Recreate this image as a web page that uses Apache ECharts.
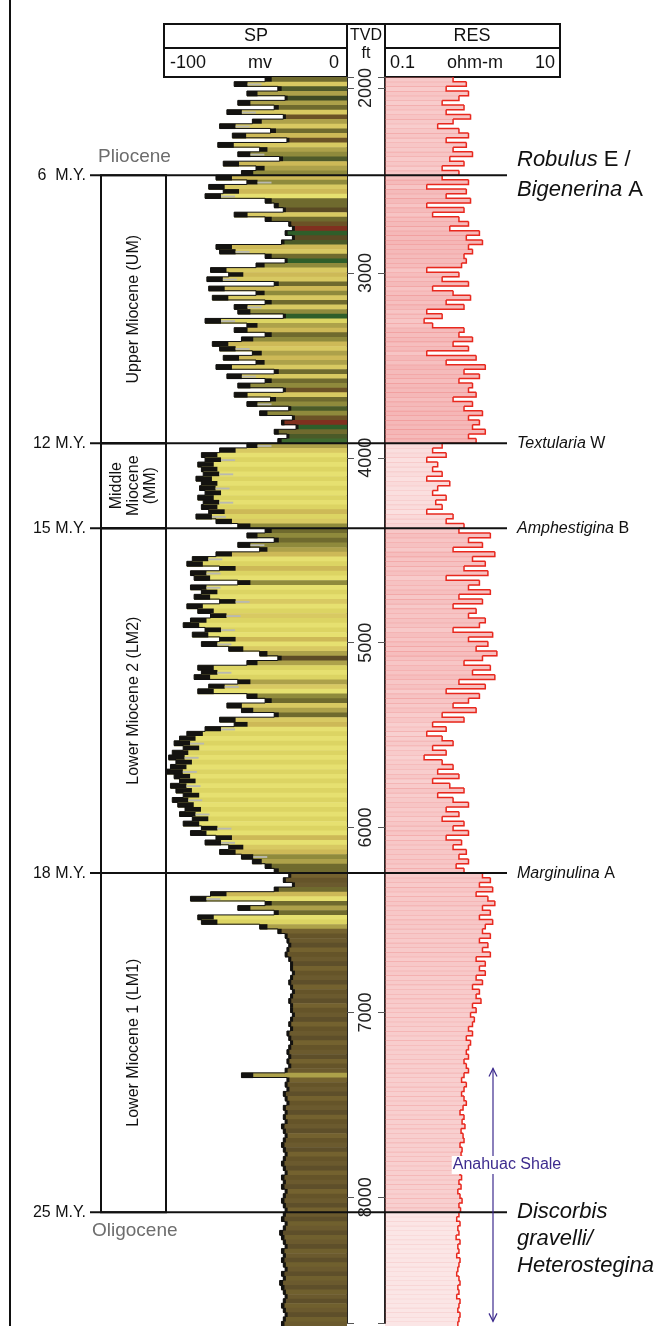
<!DOCTYPE html>
<html><head><meta charset="utf-8">
<script src="https://cdn.jsdelivr.net/npm/echarts@6/dist/echarts.min.js"></script>
<style>html,body{margin:0;padding:0;background:#fff}#c{width:669px;height:1326px}</style>
</head><body><div id="c"></div>
<script>
// ---------------- DATA ----------------
const depthTop = 1940, depthBottom = 8680;            // TVD ft shown
const ageDepths = [2470, 3916, 4375, 6236, 8066];     // TVD ft of age boundaries
const ageLabels = ['6  M.Y.', '12 M.Y.', '15 M.Y.', '18 M.Y.', '25 M.Y.'];
const markerLabels = [
  '{i|Robulus} E /\n{i|Bigenerina} A',
  '{i|Textularia} W',
  '{i|Amphestigina} B',
  '{i|Marginulina} A',
  '{i|Discorbis}\n{i|gravelli/}\n{i|Heterostegina}'
];
const epochNames = ['Upper Miocene (UM)', 'Middle\nMiocene\n(MM)', 'Lower Miocene 2 (LM2)', 'Lower Miocene 1 (LM1)'];
const epochAbove = 'Pliocene';
const epochBelow = 'Oligocene';
const anahuacLabel = 'Anahuac Shale';
const anahuacRange = [7290, 8655];
const anahuacLabelDepth = 7811;

// SP (mV), samples per zone (zone bounds: top, age boundaries, bottom)
const spPliocene = [-45,-62,-38,-55,-34,-60,-40,-66,-35,-52,-70,-42,-63,-33,-71,-48,-60,-37,-68,-50,-58];
const spUpperMiocene = [-72,-55,-76,-68,-78,-45, -40,-35,-62,-45,-32,-30,-34,-30, -36,-72,-70,-45,-34,-50,
  -75,-65,-77,-40,-76,-50,-74,-45,-62, -60,-35,-78,-55,-62,-45,-58,-74,-70,
  -52,-68,-50,-72,-40,-66,-45,-60,-35,-62,-42, -55,-32,-48,-30,-36,-28,-40,-33,-38];
const spMiddleMiocene = [-55,-70,-80,-78,-82,-80,-79,-83,-80,-81,-78,-82,-79,-80,-76,-83,-72,-60];
const spLowerMiocene2 = [-45,-55,-40,-60,-48,-72,-85,-88,-70,-86, -84,-60,-86,-80,-84,-70,-88,-82,-75,-86,
  -90,-78,-85,-70,-80,-65,-48,-38,-55,-82, -80,-84,-60,-76,-82,-55,-45,-66,-58,-40, -70,-62,
  -78,-88,-92,-95,-90,-96,-98,-94, -97,-99,-95,-92,-97,-94,-90,-96,-93,-89,
  -92,-85,-90,-80,-86,-72,-78,-65,-70,-58, -52,-45,-40];
const spLowerMiocene1 = [-32,-35,-30,-40,-75,-86,-45,-60,-40,-82, -80,-48,-38,-34,-33,-32,-33,-34,-32,-31,
  -31,-30,-31,-32,-31,-30,-31,-32,-31,-31, -30,-31,-32,-31,-33,-32,-31,-32,-33,-32,
  -33,-32,-34,-58,-33,-34,-33,-35,-34,-33, -35,-34,-35,-34,-36,-35,-34,-35,-36,-35,
  -34,-35,-36,-35,-34,-36,-35,-36,-34,-35,-36,-35,-34];
const spOligocene = [-35,-36,-34,-35,-37,-36,-35,-34,-36,-35, -36,-35,-34,-36,-35,-37,-36,-35,-34,-35, -36,-35,-34,-35,-36];

// RES (ohm-m)
const resPliocene = [0.6,0.85,0.5,0.9,0.7,0.45,0.8,0.5,0.95,0.6,0.4,0.7,0.9,0.5,0.85,0.6,1.0,0.55,0.8,0.45,0.7];
const resUpperMiocene = [0.45,0.9,0.3,0.85,0.5,0.95, 0.3,0.8,0.35,0.7,0.9,0.55,1.2,0.85, 1.3,0.9,1.0,0.8,0.85,0.75,
  0.3,0.7,0.45,0.9,0.35,0.6,0.95,0.5,0.8, 0.3,0.45,0.28,0.35,0.8,0.7,1.0,0.6,0.9,
  0.3,1.1,0.5,1.4,0.8,1.2,0.7,1.0,0.9,1.1,0.6, 1.0,0.8,1.3,0.9,1.2,1.0,1.4,0.9,1.1];
const resMiddleMiocene = [0.45,0.35,0.5,0.3,0.4,0.35,0.45,0.3,0.55,0.4,0.35,0.5,0.38,0.45,0.3,0.6,0.5,0.8];
const resLowerMiocene2 = [0.7,1.6,0.9,1.3,0.6,1.8,1.0,1.4,0.8,1.5, 0.5,1.2,0.9,1.6,0.7,1.3,0.6,1.1,0.9,1.4,
  1.2,0.6,1.7,0.9,1.5,1.1,1.9,1.3,0.8,1.6, 1.0,1.8,0.7,1.4,0.5,1.2,0.9,0.6,1.1,0.45, 0.8,0.35,
  0.5,0.3,0.45,0.6,0.35,0.5,0.28,0.45, 0.6,0.4,0.7,0.35,0.55,0.8,0.4,0.6,0.9,0.5,
  0.7,0.45,0.8,0.6,0.9,0.5,0.75,0.6,0.85,0.7, 0.9,0.65,0.8];
const resLowerMiocene1 = [1.3,1.6,1.2,1.7,1.1,1.5,1.8,1.3,1.6,1.2, 1.7,1.4,1.3,1.6,1.2,1.5,1.3,1.6,1.1,1.4,
  1.2,1.4,1.1,1.3,1.0,1.2,1.1,1.25,1.0,1.1, 0.95,1.05,1.0,0.9,1.0,0.85,0.95,0.9,0.85,0.9,
  0.8,0.85,0.9,0.8,0.75,0.85,0.8,0.75,0.8,0.85, 0.78,0.72,0.8,0.76,0.82,0.74,0.78,0.8,0.72,0.76,
  0.74,0.78,0.7,0.76,0.72,0.75,0.7,0.74,0.68,0.72,0.76,0.7,0.73];
const resOligocene = [0.7,0.66,0.72,0.68,0.7,0.65,0.72,0.68,0.7,0.66, 0.72,0.7,0.68,0.66,0.7,0.72,0.68,0.7,0.66,0.72, 0.7,0.68,0.72,0.7,0.68];

// ---------------- BUILD ----------------
const zoneBounds = [depthTop, ...ageDepths, depthBottom];
function toIntervals(zones) {
  const out = [];
  zones.forEach((arr, z) => {
    const t = zoneBounds[z], b = zoneBounds[z + 1], step = (b - t) / arr.length;
    arr.forEach((v, j) => out.push([v, t + j * step, t + (j + 1) * step, z]));
  });
  return out;
}
const spData = toIntervals([spPliocene, spUpperMiocene, spMiddleMiocene, spLowerMiocene2, spLowerMiocene1, spOligocene]);
const resData = toIntervals([resPliocene, resUpperMiocene, resMiddleMiocene, resLowerMiocene2, resLowerMiocene1, resOligocene]);

const FONT = '"Liberation Sans", Arial, Helvetica, sans-serif';
const shalePalettes = [
  ['#5e4a25', '#7a2a1e', '#4f5a2a', '#6b5226', '#3f4a24'],
  ['#3e6a30', '#6b5226', '#80301f', '#2f5e2a', '#5a4a24', '#4a5a28'],
  ['#6b5a28', '#7a3020', '#4c5a2a'],
  ['#5c6a2c', '#6b5a28', '#7a2a20', '#2f6230', '#5e4c26'],
  ['#6b5a2e', '#5e4f2a', '#74622f', '#655429'],
  ['#6b5a2e', '#5e4f2a', '#70602e']
];
function spColor(v, z, i) {
  if (v <= -78) return i % 2 ? '#e6e070' : '#dcd463';
  if (v <= -62) return i % 3 === 0 ? '#cdb957' : '#d8c962';
  if (v <= -48) return i % 2 ? '#ada14a' : '#8f8a3c';
  if (v <= -40) return '#6f6a2e';
  const p = shalePalettes[z];
  return p[i % p.length];
}
const resZoneAlpha = [0.42, 0.5, 0.3, 0.42, 0.36, 0.2];

function stepPath(api, data, idx, v, t, b) {
  const top = api.coord([v, t]), bot = api.coord([v, b]);
  const pts = [[top[0], top[1]], [bot[0], bot[1]]];
  const nx = data[idx + 1];
  if (nx) pts.push([api.coord([nx[0], b])[0], bot[1]]);
  return pts;
}

const yHidden = gi => ({gridIndex: gi, type: 'value', min: depthTop, max: depthBottom, inverse: true, show: false});
const gridTop = 77, gridH = 1249;

const option = {
  animation: false,
  backgroundColor: '#fff',
  textStyle: {fontFamily: FONT},
  grid: [
    {left: 165, top: gridTop, width: 182, height: gridH},   // SP
    {left: 347, top: gridTop, width: 38, height: gridH},    // TVD
    {left: 385, top: gridTop, width: 175, height: gridH},   // RES
    {left: 101, top: gridTop, width: 65, height: gridH},    // epochs
    {left: 0, top: gridTop, width: 669, height: gridH}      // annotations
  ],
  xAxis: [
    {gridIndex: 0, type: 'value', min: -100, max: 0, show: false},
    {gridIndex: 1, type: 'value', min: 0, max: 1, show: false},
    {gridIndex: 2, type: 'log', logBase: 10, min: 0.1, max: 10, show: false},
    {gridIndex: 3, type: 'value', min: 0, max: 1, show: false},
    {gridIndex: 4, type: 'value', min: 0, max: 669, show: false}
  ],
  yAxis: [
    yHidden(0),
    {gridIndex: 1, type: 'value', min: depthTop, max: depthBottom, inverse: true, position: 'left',
      axisLine: {show: true, lineStyle: {color: '#222', width: 2}},
      axisTick: {show: true, inside: true, length: 7, lineStyle: {color: '#555', width: 1}},
      splitLine: {show: false},
      axisLabel: {inside: true, margin: 19, rotate: 90, align: 'center', verticalAlign: 'middle',
        fontSize: 18, color: '#222', fontFamily: FONT,
        formatter: v => (v % 1000 === 0 ? String(v) : '')}},
    {gridIndex: 1, type: 'value', min: depthTop, max: depthBottom, inverse: true, position: 'right',
      axisLine: {show: true, lineStyle: {color: '#222', width: 2}},
      axisTick: {show: true, inside: true, length: 7, lineStyle: {color: '#555', width: 1}},
      splitLine: {show: false}, axisLabel: {show: false}},
    yHidden(2), yHidden(3), yHidden(4)
  ],
  series: [
    {type: 'custom', name: 'SP', xAxisIndex: 0, yAxisIndex: 0, data: spData, encode: {x: 0, y: 1}, z: 2,
      renderItem: (params, api) => {
        const v = api.value(0), t = api.value(1), b = api.value(2), zi = api.value(3);
        const a = api.coord([v, t]), c = api.coord([0, b]);
        const h = c[1] - a[1] + 0.6;
        const w = c[0] - a[0];
        const blk = Math.max(2.5, Math.min(16, (-v - 36) * 0.4 + 3));
        const kids = [
          {type: 'rect', shape: {x: a[0], y: a[1], width: w, height: h}, style: {fill: spColor(v, zi, params.dataIndex)}},
          {type: 'rect', shape: {x: a[0], y: a[1], width: Math.min(blk, w), height: h}, style: {fill: '#141310'}}
        ];
        if (v <= -55 && params.dataIndex % 3 === 1) {
          kids.push({type: 'rect', shape: {x: a[0] + blk, y: a[1] + h * 0.35, width: Math.min(14, w - blk), height: h * 0.35},
            style: {fill: '#b9b9b0'}});
        }
        kids.push({type: 'polyline', shape: {points: stepPath(api, spData, params.dataIndex, v, t, b)},
          style: {stroke: '#111', lineWidth: 1, fill: 'none'}, z2: 5});
        return {type: 'group', children: kids};
      }},
    {type: 'custom', name: 'RES', xAxisIndex: 2, yAxisIndex: 3, data: resData, encode: {x: 0, y: 1}, z: 2,
      renderItem: (params, api) => {
        const v = api.value(0), t = api.value(1), b = api.value(2), zi = api.value(3);
        const a = api.coord([0.1, t]), c = api.coord([v, b]);
        const shade = (Math.log10(v) + 1) / 2;
        const alpha = Math.max(0.1, Math.min(0.85, resZoneAlpha[zi] + 0.35 * (shade - 0.45)));
        return {type: 'group', children: [
          {type: 'rect', shape: {x: a[0], y: a[1], width: c[0] - a[0], height: c[1] - a[1] + 0.6},
            style: {fill: 'rgba(236,120,120,' + alpha.toFixed(3) + ')'}},
          {type: 'polyline', shape: {points: stepPath(api, resData, params.dataIndex, v, t, b)},
            style: {stroke: '#e8281e', lineWidth: 1.5, fill: 'none'}, z2: 5}
        ]};
      }},
    {type: 'custom', name: 'Epochs', xAxisIndex: 3, yAxisIndex: 4, z: 5,
      data: epochNames.map((n, i) => [zoneBounds[i + 1], zoneBounds[i + 2], i]),
      encode: {y: 0},
      renderItem: (params, api) => {
        const t = api.value(0), b = api.value(1), i = api.value(2);
        const p0 = api.coord([0, t]), p1 = api.coord([1, b]);
        return {type: 'group', children: [
          {type: 'rect', shape: {x: p0[0], y: p0[1], width: p1[0] - p0[0], height: p1[1] - p0[1]},
            style: {fill: 'none', stroke: '#111', lineWidth: 2}},
          {type: 'text', x: (p0[0] + p1[0]) / 2, y: (p0[1] + p1[1]) / 2, rotation: Math.PI / 2,
            style: {text: epochNames[i], align: 'center', verticalAlign: 'middle', fontSize: 16,
              lineHeight: 17, fontFamily: FONT, fill: '#111'}}
        ]};
      }},
    {type: 'custom', name: 'Ages', xAxisIndex: 4, yAxisIndex: 5, z: 10,
      data: ageDepths.map((d, i) => [d, i]), encode: {y: 0},
      renderItem: (params, api) => {
        const d = api.value(0), i = api.value(1);
        const L = api.coord([90, d]), R = api.coord([507, d]);
        const y = L[1];
        const big = (i === 0 || i === 4);
        const fs = big ? 22 : 16;
        const lh = big ? (i === 0 ? 30 : 27) : 18;
        const kids = [
          {type: 'line', shape: {x1: L[0], y1: y, x2: R[0], y2: y}, style: {stroke: '#111', lineWidth: 2}},
          {type: 'text', x: api.coord([86, d])[0], y: y, style: {text: ageLabels[i], align: 'right', verticalAlign: 'middle',
            fontSize: 16, fontFamily: FONT, fill: '#111'}},
          {type: 'text', x: api.coord([517, d])[0], y: (i === 4 ? y - lh / 2 : y), style: {
            text: markerLabels[i], align: 'left', verticalAlign: (i === 4 ? 'top' : 'middle'),
            fontSize: fs, lineHeight: lh, fontFamily: FONT, fill: '#111',
            rich: {i: {fontStyle: 'italic', fontSize: fs, lineHeight: lh, fontFamily: FONT, fill: '#111'}}}}
        ];
        if (i === 0) kids.push({type: 'text', x: api.coord([98, d])[0], y: y - 18,
          style: {text: epochAbove, align: 'left', verticalAlign: 'middle', fontSize: 19, fontFamily: FONT, fill: '#6d6d6d'}});
        if (i === ageDepths.length - 1) kids.push({type: 'text', x: api.coord([92, d])[0], y: y + 19,
          style: {text: epochBelow, align: 'left', verticalAlign: 'middle', fontSize: 19, fontFamily: FONT, fill: '#6d6d6d'}});
        return {type: 'group', children: kids};
      }},
    {type: 'custom', name: 'Anahuac', xAxisIndex: 4, yAxisIndex: 5, z: 11,
      data: [[anahuacRange[0], anahuacRange[1], anahuacLabelDepth]], encode: {y: 0},
      renderItem: (params, api) => {
        const T = api.coord([493, api.value(0)]), B = api.coord([493, api.value(1)]), M = api.coord([507, api.value(2)]);
        const col = '#3d2b8e';
        return {type: 'group', children: [
          {type: 'line', shape: {x1: T[0], y1: T[1], x2: B[0], y2: B[1]}, style: {stroke: col, lineWidth: 1.2}},
          {type: 'polyline', shape: {points: [[T[0] - 4, T[1] + 8], [T[0], T[1]], [T[0] + 4, T[1] + 8]]}, style: {stroke: col, lineWidth: 1.2, fill: 'none'}},
          {type: 'polyline', shape: {points: [[B[0] - 4, B[1] - 8], [B[0], B[1]], [B[0] + 4, B[1] - 8]]}, style: {stroke: col, lineWidth: 1.2, fill: 'none'}},
          {type: 'text', x: M[0], y: M[1], style: {text: anahuacLabel, align: 'center', verticalAlign: 'middle',
            fontSize: 16, fontFamily: FONT, fill: col, backgroundColor: '#fff', padding: [1, 1]}}
        ]};
      }}
  ],
  graphic: [
    {type: 'line', shape: {x1: 10, y1: 0, x2: 10, y2: 1326}, style: {stroke: '#111', lineWidth: 2}},
    {type: 'rect', shape: {x: 164, y: 24, width: 183, height: 53}, style: {fill: '#fff', stroke: '#111', lineWidth: 2}},
    {type: 'line', shape: {x1: 164, y1: 48, x2: 347, y2: 48}, style: {stroke: '#111', lineWidth: 2}},
    {type: 'rect', shape: {x: 385, y: 24, width: 175, height: 53}, style: {fill: '#fff', stroke: '#111', lineWidth: 2}},
    {type: 'line', shape: {x1: 385, y1: 48, x2: 560, y2: 48}, style: {stroke: '#111', lineWidth: 2}},
    {type: 'polyline', shape: {points: [[347, 77], [347, 24], [385, 24], [385, 77]]}, style: {stroke: '#111', lineWidth: 2, fill: 'none'}},
    {type: 'text', x: 256, y: 36, style: {text: 'SP', align: 'center', verticalAlign: 'middle', fontSize: 18, fontFamily: FONT, fill: '#111'}},
    {type: 'text', x: 170, y: 63, style: {text: '-100', align: 'left', verticalAlign: 'middle', fontSize: 18, fontFamily: FONT, fill: '#111'}},
    {type: 'text', x: 260, y: 63, style: {text: 'mv', align: 'center', verticalAlign: 'middle', fontSize: 18, fontFamily: FONT, fill: '#111'}},
    {type: 'text', x: 339, y: 63, style: {text: '0', align: 'right', verticalAlign: 'middle', fontSize: 18, fontFamily: FONT, fill: '#111'}},
    {type: 'text', x: 366, y: 36, style: {text: 'TVD', align: 'center', verticalAlign: 'middle', fontSize: 16, fontFamily: FONT, fill: '#111'}},
    {type: 'text', x: 366, y: 54, style: {text: 'ft', align: 'center', verticalAlign: 'middle', fontSize: 16, fontFamily: FONT, fill: '#111'}},
    {type: 'text', x: 472, y: 36, style: {text: 'RES', align: 'center', verticalAlign: 'middle', fontSize: 18, fontFamily: FONT, fill: '#111'}},
    {type: 'text', x: 390, y: 63, style: {text: '0.1', align: 'left', verticalAlign: 'middle', fontSize: 18, fontFamily: FONT, fill: '#111'}},
    {type: 'text', x: 475, y: 63, style: {text: 'ohm-m', align: 'center', verticalAlign: 'middle', fontSize: 18, fontFamily: FONT, fill: '#111'}},
    {type: 'text', x: 555, y: 63, style: {text: '10', align: 'right', verticalAlign: 'middle', fontSize: 18, fontFamily: FONT, fill: '#111'}}
  ]
};
const chart = echarts.init(document.getElementById('c'), null, {renderer: 'canvas'});
chart.setOption(option);
</script></body></html>
